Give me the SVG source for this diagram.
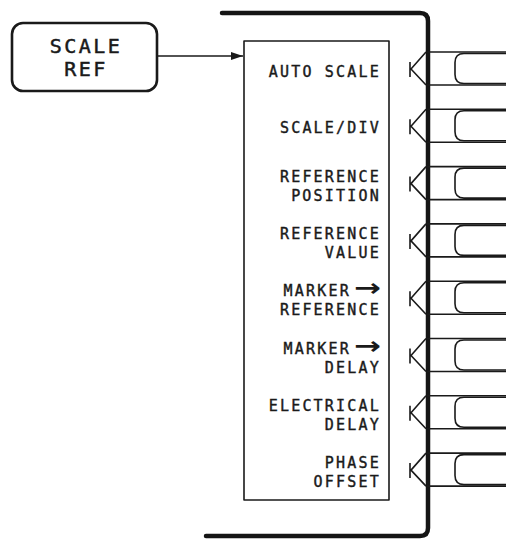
<svg xmlns="http://www.w3.org/2000/svg" width="506" height="539" viewBox="0 0 506 539">
<style>
.bz{fill:none;stroke:#151515;stroke-width:4.5;stroke-linecap:round;stroke-linejoin:round}
.ln{fill:none;stroke:#1a1a1a;stroke-width:1.6;stroke-linejoin:round}
.lb{font-family:"DejaVu Sans Mono","Liberation Mono",monospace;font-size:15px;letter-spacing:2.2px;fill:#1a1a1a;stroke:#1a1a1a;stroke-width:0.4px;text-anchor:end}
.big{font-family:"DejaVu Sans Mono","Liberation Mono",monospace;font-size:20px;letter-spacing:2.5px;fill:#1a1a1a;stroke:#1a1a1a;stroke-width:0.5px;text-anchor:middle}
.ar{font-family:"DejaVu Sans",sans-serif;font-size:24px;letter-spacing:0;font-weight:bold;stroke-width:0}
</style>
<defs>
<g id="key">
<path class="ln" d="M410 10V25M426 0L411 17L426 33"/>
<path class="ln" d="M427 0H506M427 33H506"/>
<path class="ln" d="M506 1.5H464Q455 1.5 455 10.5V22.5Q455 31.5 464 31.5H506"/>
</g>
<marker id="ah" viewBox="0 0 10 8" refX="10" refY="4" markerWidth="12" markerHeight="8" markerUnits="userSpaceOnUse" orient="auto" preserveAspectRatio="none">
<path d="M0 0L10 4L0 8Z" fill="#1a1a1a"/>
</marker>
</defs>
<g id="bezel">
<path class="bz" d="M222 13H420Q428 13 428 21V528Q428 536 420 536H206"/>
</g>
<g id="scale-ref">
<rect class="ln" x="12" y="23" width="145" height="68" rx="11" style="stroke-width:2.6"/>
<text class="big" x="86" y="53">SCALE</text>
<text class="big" x="86" y="76">REF</text>
</g>
<g id="menu">
<rect class="ln" x="244" y="41" width="145" height="459"/>
<text class="lb" x="381" y="77">AUTO SCALE</text>
<text class="lb" x="381" y="133">SCALE/DIV</text>
<text class="lb" x="381" y="181.6">REFERENCE</text>
<text class="lb" x="381" y="200.6">POSITION</text>
<text class="lb" x="381" y="238.9">REFERENCE</text>
<text class="lb" x="381" y="257.9">VALUE</text>
<text class="lb" x="381" y="296.2">MARKER<tspan class="ar" dx="3" textLength="27" lengthAdjust="spacingAndGlyphs">→</tspan></text>
<text class="lb" x="381" y="315.2">REFERENCE</text>
<text class="lb" x="381" y="353.5">MARKER<tspan class="ar" dx="3" textLength="27" lengthAdjust="spacingAndGlyphs">→</tspan></text>
<text class="lb" x="381" y="372.5">DELAY</text>
<text class="lb" x="381" y="410.8">ELECTRICAL</text>
<text class="lb" x="381" y="429.8">DELAY</text>
<text class="lb" x="381" y="468.1">PHASE</text>
<text class="lb" x="381" y="487.1">OFFSET</text>
</g>
<g id="softkey1"><use href="#key" y="52"/></g>
<g id="softkey2"><use href="#key" y="109.3"/></g>
<g id="softkey3"><use href="#key" y="166.6"/></g>
<g id="softkey4"><use href="#key" y="223.9"/></g>
<g id="softkey5"><use href="#key" y="281.2"/></g>
<g id="softkey6"><use href="#key" y="338.5"/></g>
<g id="softkey7"><use href="#key" y="395.8"/></g>
<g id="softkey8"><use href="#key" y="453.1"/></g>
<g id="connectors">
<line class="ln" x1="157" y1="56" x2="243" y2="56" marker-end="url(#ah)"/>
</g>
</svg>
